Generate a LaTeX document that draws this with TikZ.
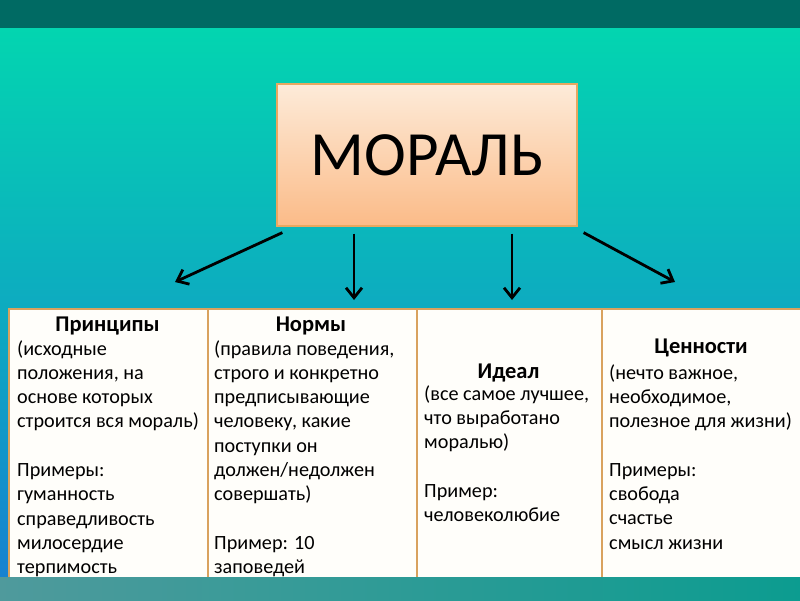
\documentclass[tikz,border=0pt]{standalone}
\usepackage{fontspec}
\setmainfont{Carlito}
\usetikzlibrary{arrows.meta,calc,positioning}

\definecolor{topband}{HTML}{006A63}
\definecolor{bgtop}{HTML}{03D5B0}
\definecolor{bgmid}{HTML}{19BAE2}
\definecolor{bgbot}{HTML}{1782D0}
\definecolor{bandleft}{HTML}{4F9A9C}
\definecolor{bandright}{HTML}{0C9C90}
\definecolor{peachtop}{HTML}{FDEBD9}
\definecolor{peachbot}{HTML}{FBBB88}
\definecolor{peachline}{HTML}{E8A860}
\definecolor{cellline}{HTML}{D9A25E}
\definecolor{cellfill}{HTML}{FFFEFA}

\begin{document}
\begin{tikzpicture}[x=1pt,y=-1pt,
  moralbox/.style={rectangle,draw=peachline,line width=1.2pt,top color=peachtop,
                   bottom color=peachbot,minimum width=300pt,minimum height=142pt,
                   font=\fontsize{63}{68}\selectfont},
  cell/.style={rectangle,draw=cellline,line width=2pt,fill=cellfill,anchor=north west,
               minimum height=290pt,inner sep=0pt},
  head/.style={anchor=base,inner sep=0pt,font=\fontsize{22.5}{26}\selectfont\bfseries},
  body/.style={anchor=base west,inner sep=0pt,align=left,
               font=\fontsize{20.2}{24.3}\selectfont},
  arrow/.style={-{Straight Barb[length=10pt,width=16pt]},line width=2.8pt}]

\useasboundingbox (0,0) rectangle (800,600);

% background
\shade[top color=bgtop,middle color=bgmid,bottom color=bgbot] (0,28) rectangle (800,577);
\fill[topband] (0,0) rectangle (800,28);

% main box
\node[moralbox] (moral) at (427,155) {МОРАЛЬ};

% four columns (body nodes sit on their last baseline)
\node[cell,minimum width=199pt] (c1) at (8,308) {};
\node[cell,minimum width=209pt] (c2) at (207,308) {};
\node[cell,minimum width=185pt] (c3) at (416,308) {};
\node[cell,minimum width=205pt] (c4) at (601,308) {};

\node[head] (h1) at (107.5,331) {Принципы};
\node[body] (b1) at (17,573.7)
  {(исходные\\положения, на\\основе которых\\строится вся мораль)\\[24.3pt]
   Примеры:\\гуманность\\справедливость\\милосердие\\терпимость};

\node[head] (h2) at (311,331) {Нормы};
\node[body] (b2) at (214,573.7)
  {(правила поведения,\\строго и конкретно\\предписывающие\\человеку, какие\\поступки он\\должен/недолжен\\совершать)\\[24.3pt]
   Пример: 10\\заповедей};

\node[head] (h3) at (508.5,378) {Идеал};
\node[body] (b3) at (424,521.5)
  {(все самое лучшее,\\что выработано\\моралью)\\[24.3pt]
   Пример:\\человеколюбие};

\node[head] (h4) at (701,353) {Ценности};
\node[body] (b4) at (609,549.1)
  {(нечто важное,\\необходимое,\\полезное для жизни)\\[24.3pt]
   Примеры:\\свобода\\счастье\\смысл жизни};

% arrows
\coordinate (t1) at (175,282);
\coordinate (t4) at (675,282);
\draw[arrow] ([shift={(6,6)}]moral.south west) -- (t1);
\draw[arrow] ([shift={(6,6)}]moral.south east) -- (t4);
\draw[arrow] (moral.south -| h2) ++(43,7) -- (354,300);
\draw[arrow] (moral.south -| h3) ++(3.5,7) -- (512,300);

% bottom band
\shade[left color=bandleft,right color=bandright] (0,577) rectangle (800,600);
\end{tikzpicture}
\end{document}
